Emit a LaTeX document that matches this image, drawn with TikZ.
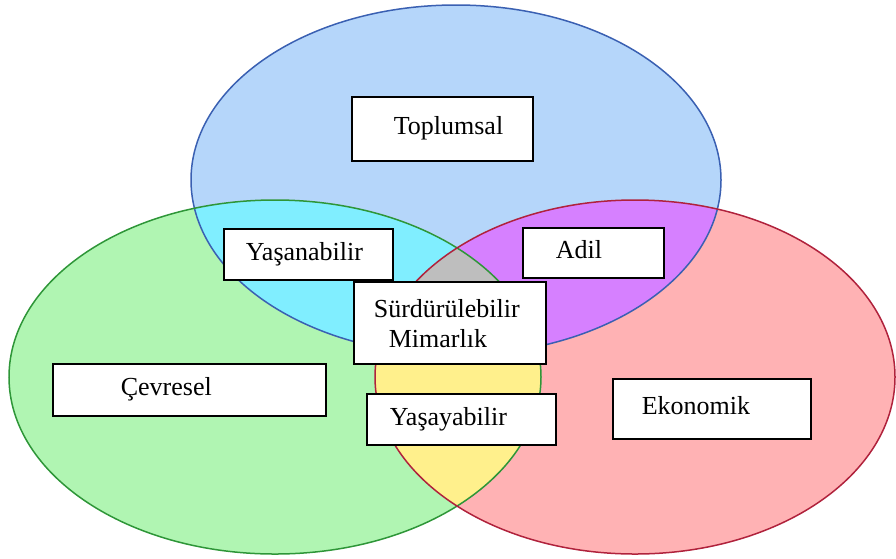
\documentclass[tikz,border=0pt]{standalone}
\usepackage{fontspec}
\setmainfont{Liberation Serif}
\newfontfamily\boxfont{Liberation Serif}
\usetikzlibrary{positioning}
\usepackage{xcolor}
\definecolor{socfill}{RGB}{181,214,250}
\definecolor{socline}{RGB}{58,96,178}
\definecolor{envfill}{RGB}{176,245,178}
\definecolor{envline}{RGB}{46,150,56}
\definecolor{ecofill}{RGB}{255,178,180}
\definecolor{ecoline}{RGB}{176,34,60}
\definecolor{socenv}{RGB}{128,238,255}
\definecolor{soceco}{RGB}{214,128,255}
\definecolor{enveco}{RGB}{255,240,140}
\definecolor{allthree}{RGB}{190,190,190}
\tikzset{
    ring/.style={
        draw=#1,line width=1.5pt
    },
    tbox/.style={
        draw=black,line width=1.6pt,fill=white,anchor=north west,
        inner xsep=0pt,inner ysep=0pt,align=left,
        text height=18pt,text depth=6pt,
        font=\boxfont\fontsize{26}{30}\selectfont
    }
}

\begin{document}
\begin{tikzpicture}[x=1pt,y=-1pt]
\useasboundingbox (0,0) rectangle (896,558);

\coordinate (soc) at (456,180);
\coordinate (env) at (275,377);
\coordinate (eco) at (635,377);

% sets
\fill[socfill] (soc) ellipse [x radius=265pt,y radius=175pt];
\fill[envfill] (env) ellipse [x radius=266pt,y radius=177pt];
\fill[ecofill] (eco) ellipse [x radius=260pt,y radius=177pt];

% overlaps
\begin{scope}
\clip (soc) ellipse [x radius=265pt,y radius=175pt];
\fill[socenv] (env) ellipse [x radius=266pt,y radius=177pt];
\fill[soceco] (eco) ellipse [x radius=260pt,y radius=177pt];
\clip (env) ellipse [x radius=266pt,y radius=177pt];
\fill[allthree] (eco) ellipse [x radius=260pt,y radius=177pt];
\end{scope}
\begin{scope}
\clip (env) ellipse [x radius=266pt,y radius=177pt];
\clip (eco) ellipse [x radius=260pt,y radius=177pt];
\fill[enveco] (soc) ellipse [x radius=265pt,y radius=175pt]
    [even odd rule] (0,0) rectangle (896,558);
\end{scope}

% outlines
\draw[ring=socline] (soc) ellipse [x radius=265pt,y radius=175pt];
\draw[ring=envline] (env) ellipse [x radius=266pt,y radius=177pt];
\draw[ring=ecoline] (eco) ellipse [x radius=260pt,y radius=177pt];

% labels
\node[tbox,text width=181pt,minimum height=64pt] (toplumsal) at (351,96)
    {\hspace*{42pt}Toplumsal};
\node[tbox,text width=169pt,minimum height=51pt] (yasanabilir) at (223,228)
    {\hspace*{22pt}Yaşanabilir};
\node[tbox,text width=141pt,minimum height=50pt] (adil) at (522,227)
    {\hspace*{33pt}Adil};
\node[tbox,text width=192pt,minimum height=82pt,text height=20pt,text depth=30pt]
    (surdurulebilir) at (353,281)
    {\hspace*{20pt}Sürdürülebilir\\\hspace*{35pt}Mimarlık};
\node[tbox,text width=273pt,minimum height=52pt] (cevresel) at (52,363)
    {\hspace*{68pt}Çevresel};
\node[tbox,text width=189pt,minimum height=51pt] (yasayabilir) at (366,393)
    {\hspace*{23pt}Yaşayabilir};
\node[tbox,text width=198pt,minimum height=60pt] (ekonomik) at (612,378)
    {\hspace*{29pt}Ekonomik};

\end{tikzpicture}
\end{document}
